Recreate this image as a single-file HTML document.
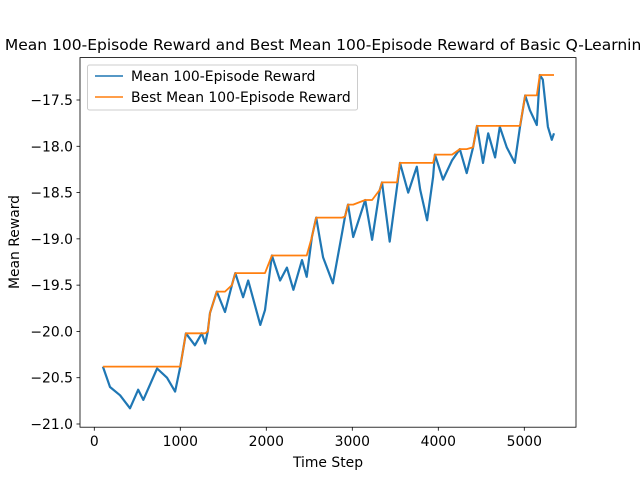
<!DOCTYPE html>
<html><head><meta charset="utf-8"><style>
body{margin:0;background:#fff}
svg{display:block;font-family:"DejaVu Sans","Liberation Sans",sans-serif}
</style></head><body>
<svg id="c" width="640" height="480">
<text x="328" y="50" font-size="15.5" text-anchor="middle">Mean 100-Episode Reward and Best Mean 100-Episode Reward of Basic Q-Learning</text>
<g id="plot"></g>
<rect x="80" y="57.6" width="496" height="369.6" fill="none" stroke="#000" stroke-width="0.8"/>
<g id="ticks" font-size="13.9"></g>
<text x="328" y="467" font-size="13.9" text-anchor="middle">Time Step</text>
<text x="19" y="242" font-size="13.9" text-anchor="middle" transform="rotate(-90 19 242)">Mean Reward</text>
<g>
<rect x="87.5" y="65" width="270" height="45" rx="2" fill="#fff" fill-opacity="0.8" stroke="#ccc"/>
<line x1="95" y1="76" x2="123" y2="76" stroke="#1f77b4" stroke-width="1.5"/>
<text x="131" y="81" font-size="13.9">Mean 100-Episode Reward</text>
<line x1="95" y1="97" x2="123" y2="97" stroke="#ff7f0e" stroke-width="1.5"/>
<text x="131" y="102" font-size="13.9">Best Mean 100-Episode Reward</text>
</g>
</svg>
<script>
const steps=[100,183,300,415,510,570,730,845,940,1000,1065,1170,1250,1290,1320,1345,1425,1520,1600,1640,1730,1790,1930,1985,2065,2160,2240,2315,2415,2470,2530,2580,2625,2660,2775,2880,2915,2950,3010,3150,3230,3320,3345,3435,3520,3555,3650,3750,3790,3870,3940,3960,4055,4160,4250,4330,4405,4450,4520,4580,4660,4715,4795,4890,4950,5010,5065,5145,5180,5215,5275,5320,5345];
const meanReward=[-20.38,-20.60,-20.69,-20.83,-20.63,-20.74,-20.40,-20.50,-20.65,-20.38,-20.02,-20.15,-20.02,-20.13,-20.0,-19.80,-19.57,-19.79,-19.50,-19.37,-19.63,-19.45,-19.93,-19.77,-19.18,-19.45,-19.31,-19.55,-19.23,-19.41,-18.98,-18.77,-19.01,-19.20,-19.48,-18.94,-18.76,-18.63,-18.98,-18.58,-19.01,-18.47,-18.39,-19.03,-18.44,-18.18,-18.50,-18.22,-18.47,-18.80,-18.33,-18.09,-18.36,-18.15,-18.03,-18.29,-18.01,-17.78,-18.18,-17.86,-18.12,-17.79,-18.01,-18.18,-17.79,-17.45,-17.61,-17.77,-17.23,-17.28,-17.79,-17.93,-17.86];
const xTicks=[0,1000,2000,3000,4000,5000];
const yTicks=[-21.0,-20.5,-20.0,-19.5,-19.0,-18.5,-18.0,-17.5];
const yTickLabels=["−21.0","−20.5","−20.0","−19.5","−19.0","−18.5","−18.0","−17.5"];

const X=v=>94.3+v*0.0860;
const Y=v=>100-(v+17.5)*92.57;
const NS="http://www.w3.org/2000/svg";
const plot=document.getElementById('plot'),tk=document.getElementById('ticks');
function mk(t,a,p){const e=document.createElementNS(NS,t);for(const k in a)e.setAttribute(k,a[k]);p.appendChild(e);return e;}
let best=[],m=-Infinity;meanReward.forEach(v=>{m=Math.max(m,v);best.push(m);});
let d1=steps.map((s,i)=>(i?'L':'M')+X(s).toFixed(1)+' '+Y(meanReward[i]).toFixed(1)).join('');
const p1=mk('path',{d:d1,fill:'none',stroke:'#1f77b4','stroke-width':2.2,'stroke-linejoin':'round'},plot);


let d2=steps.map((s,i)=>(i?'L':'M')+X(s).toFixed(1)+' '+Y(best[i]).toFixed(1)).join('');
const p2=mk('path',{d:d2,fill:'none',stroke:'#ff7f0e','stroke-width':1.8,'stroke-linejoin':'round'},plot);


xTicks.forEach(v=>{const x=X(v);
 const l=mk('line',{x1:x,x2:x,y1:427.2,y2:430.7,stroke:'#000','stroke-width':0.8},tk);
 
 
 const t=mk('text',{x:x,y:446,'text-anchor':'middle'},tk);t.textContent=v;
 
 });
yTicks.forEach((v,i)=>{const y=Y(v);
 const l=mk('line',{x1:76.5,x2:80,y1:y,y2:y,stroke:'#000','stroke-width':0.8},tk);
 
 
 const t=mk('text',{x:73,y:y+5,'text-anchor':'end'},tk);t.textContent=yTickLabels[i];
 
 });
</script>
</body></html>
